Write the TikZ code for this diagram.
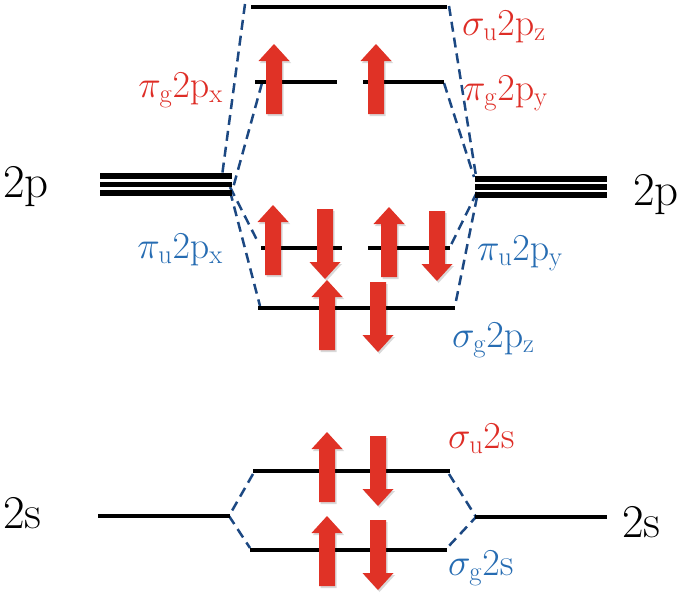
\RequirePackage{fix-cm}
\documentclass[tikz,border=0pt]{standalone}
\definecolor{spinred}{RGB}{224,50,38}
\definecolor{lblred}{RGB}{222,45,38}
\definecolor{lblblue}{RGB}{38,108,178}
\definecolor{dashblue}{RGB}{28,72,130}
\tikzset{
  level/.style={line width=4.5pt, black},
  deglevel/.style={line width=5.5pt, black},
  corr/.style={dashblue, line width=2.5pt, dash pattern=on 10pt off 6pt},
  bigtxt/.style={font=\fontsize{47}{50}\selectfont, inner sep=0pt},
  motxt/.style={font=\fontsize{38}{40}\selectfont, inner sep=0pt},
  upspin/.pic={
    \fill[black,opacity=0.15,shift={(1.5,2)}] (-8,0) -- (-8,-53) -- (-15.5,-53) -- (0,-70) -- (15.5,-53) -- (8,-53) -- (8,0) -- cycle;
    \fill[spinred] (-8,0) -- (-8,-53) -- (-15.5,-53) -- (0,-70) -- (15.5,-53) -- (8,-53) -- (8,0) -- cycle;},
  downspin/.pic={
    \fill[black,opacity=0.15,shift={(1.5,2)}] (-8,0) -- (-8,53) -- (-15.5,53) -- (0,70) -- (15.5,53) -- (8,53) -- (8,0) -- cycle;
    \fill[spinred] (-8,0) -- (-8,53) -- (-15.5,53) -- (0,70) -- (15.5,53) -- (8,53) -- (8,0) -- cycle;}
}
\begin{document}
\begin{tikzpicture}[x=1pt,y=-1pt]
\useasboundingbox (0,0) rectangle (685,597);
% ---- level end points
\coordinate (suzL) at (251,7);   \coordinate (suzR) at (447,7);
\coordinate (pgxL) at (255,82);  \coordinate (pgxR) at (337,82);
\coordinate (pgyL) at (363,82);  \coordinate (pgyR) at (444,82);
\coordinate (puxL) at (261,248); \coordinate (puxR) at (342,248);
\coordinate (puyL) at (368,248); \coordinate (puyR) at (450,248);
\coordinate (sgzL) at (258,308); \coordinate (sgzR) at (455,308);
\coordinate (susL) at (253,471); \coordinate (susR) at (450,471);
\coordinate (sgsL) at (250,550); \coordinate (sgsR) at (447,550);
\coordinate (ssLa) at (98,516);  \coordinate (ssLb) at (230,516);
\coordinate (ssRa) at (475,517); \coordinate (ssRb) at (607,517);
\foreach \y [count=\i] in {176,184.5,193} {
  \coordinate (ppLa\i) at (100,\y); \coordinate (ppLb\i) at (232,\y);}
\foreach \y [count=\i] in {179,187,195} {
  \coordinate (ppRa\i) at (475,\y); \coordinate (ppRb\i) at (607,\y);}
% ---- dashed correlation lines
\coordinate (dA1) at (245,4);   \coordinate (dA2) at (222,176);
\coordinate (dB1) at (262,83);  \coordinate (dB2) at (233,188);
\coordinate (dC1) at (230,187); \coordinate (dC2) at (259,244);
\coordinate (dD1) at (230,191); \coordinate (dD2) at (260,306);
\coordinate (eA1) at (449,6);   \coordinate (eA2) at (476,176);
\coordinate (eB1) at (444,83);  \coordinate (eB2) at (474,177);
\coordinate (eC1) at (477,192); \coordinate (eC2) at (450,247);
\coordinate (eD1) at (477,197); \coordinate (eD2) at (455,306);
\coordinate (fL1) at (253,474); \coordinate (fL2) at (229,516); \coordinate (fL3) at (250,548);
\coordinate (fR1) at (449,474); \coordinate (fR2) at (476,517); \coordinate (fR3) at (447,548);
\draw[corr] (dA1) -- (dA2);
\draw[corr] (dB1) -- (dB2);
\draw[corr] (dC1) -- (dC2);
\draw[corr] (dD1) -- (dD2);
\draw[corr] (eA1) -- (eA2);
\draw[corr] (eB1) -- (eB2);
\draw[corr] (eC1) -- (eC2);
\draw[corr] (eD1) -- (eD2);
\draw[corr] (fL1) -- (fL2) -- (fL3);
\draw[corr] (fR1) -- (fR2) -- (fR3);
% ---- levels
\draw[level] (suzL) -- (suzR);
\draw[level] (pgxL) -- (pgxR);
\draw[level] (pgyL) -- (pgyR);
\draw[level] (puxL) -- (puxR);
\draw[level] (puyL) -- (puyR);
\draw[level] (sgzL) -- (sgzR);
\draw[level] (susL) -- (susR);
\draw[level] (sgsL) -- (sgsR);
\draw[level] (ssLa) -- (ssLb);
\draw[level] (ssRa) -- (ssRb);
\foreach \i in {1,2,3} {
  \draw[deglevel] (ppLa\i) -- (ppLb\i);
  \draw[deglevel] (ppRa\i) -- (ppRb\i);}
% ---- electrons
\pic at (274,114) {upspin};
\pic at (376,114) {upspin};
\pic at (273,275) {upspin};
\pic at (325,209) {downspin};
\pic at (389,277) {upspin};
\pic at (437,211) {downspin};
\pic at (327,350) {upspin};
\pic at (378,282) {downspin};
\pic at (327,502) {upspin};
\pic at (378,436) {downspin};
\pic at (327,586) {upspin};
\pic at (378,520) {downspin};
% ---- labels
\node[bigtxt, anchor=base west] (l2pL) at (3,197) {2p};
\node[bigtxt, anchor=base west] (l2pR) at (633,205) {2p};
\node[bigtxt, anchor=base west] (l2sL) at (3,528) {2s};
\node[bigtxt, anchor=base west] (l2sR) at (622,537) {2s};
\node[motxt, lblred, anchor=base west] (tsuz) at (462,35) {$\sigma_{\mathrm{u}}2\mathrm{p}_{\mathrm{z}}$};
\node[motxt, lblred, anchor=base west] (tpgy) at (463,100) {$\pi_{\mathrm{g}}2\mathrm{p}_{\mathrm{y}}$};
\node[motxt, lblred, anchor=base east] (tpgx) at (223,97) {$\pi_{\mathrm{g}}2\mathrm{p}_{\mathrm{x}}$};
\node[motxt, lblblue, anchor=base east] (tpux) at (223,258) {$\pi_{\mathrm{u}}2\mathrm{p}_{\mathrm{x}}$};
\node[motxt, lblblue, anchor=base west] (tpuy) at (477,260) {$\pi_{\mathrm{u}}2\mathrm{p}_{\mathrm{y}}$};
\node[motxt, lblblue, anchor=base west] (tsgz) at (452,347) {$\sigma_{\mathrm{g}}2\mathrm{p}_{\mathrm{z}}$};
\node[motxt, lblred, anchor=base west] (tsus) at (448,448) {$\sigma_{\mathrm{u}}2\mathrm{s}$};
\node[motxt, lblblue, anchor=base west] (tsgs) at (448,575) {$\sigma_{\mathrm{g}}2\mathrm{s}$};
\end{tikzpicture}
\end{document}
